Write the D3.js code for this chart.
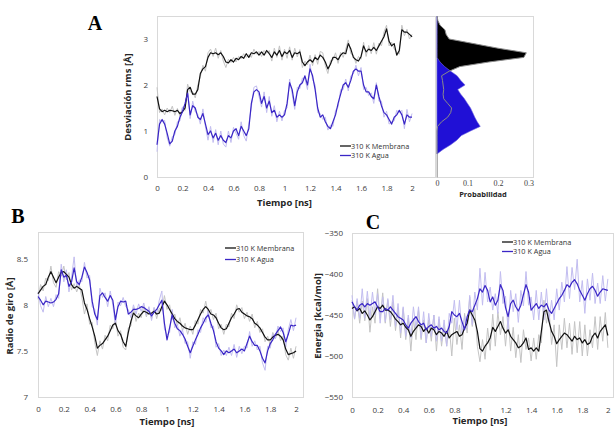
<!DOCTYPE html>
<html>
<head>
<meta charset="utf-8">
<script src="https://cdn.jsdelivr.net/npm/d3@7"></script>
<style>
body { margin: 0; background: #fff; }
svg { display: block; }
</style>
</head>
<body>
<script>
// time sampling of every series (ns)
var tiempoStep = 0.02;
var tiempoTicks = [0, 0.2, 0.4, 0.6, 0.8, 1, 1.2, 1.4, 1.6, 1.8, 2];

// A: desviacion rms [A]
var aMem = [1.75,1.48,1.42,1.45,1.42,1.45,1.44,1.42,1.45,1.38,1.42,1.5,1.9,1.95,1.8,1.8,1.9,2.25,2.35,2.4,
  2.6,2.7,2.68,2.7,2.66,2.7,2.62,2.5,2.48,2.55,2.5,2.58,2.55,2.62,2.58,2.68,2.6,2.7,2.68,2.72,
  2.65,2.72,2.65,2.75,2.68,2.6,2.72,2.65,2.75,2.62,2.72,2.68,2.75,2.6,2.7,2.68,2.72,2.5,2.42,2.5,
  2.55,2.5,2.6,2.55,2.65,2.6,2.5,2.35,2.45,2.6,2.6,2.55,2.65,2.7,2.68,2.9,2.78,2.6,2.55,2.52,
  2.62,2.85,2.72,2.78,2.75,2.82,2.75,2.85,2.95,3.05,3.22,2.95,2.85,2.9,2.65,2.75,3.2,3.15,3.15,3.1,3.05];
var aMemRaw = [1.95,1.4,1.48,1.35,1.5,1.4,1.54,1.34,1.49,1.32,1.52,1.45,2.02,1.85,1.85,1.72,2.0,2.18,2.43,2.3,
  2.7,2.78,2.62,2.8,2.58,2.75,2.52,2.38,2.56,2.49,2.6,2.5,2.62,2.57,2.68,2.6,2.66,2.6,2.78,2.67,
  2.73,2.62,2.75,2.69,2.75,2.52,2.8,2.6,2.85,2.54,2.78,2.58,2.83,2.54,2.8,2.61,2.77,2.38,2.52,2.44,
  2.65,2.42,2.66,2.45,2.73,2.7,2.42,2.25,2.53,2.54,2.7,2.47,2.71,2.6,2.78,2.98,2.68,2.65,2.47,2.62,
  2.56,2.93,2.62,2.86,2.68,2.92,2.67,2.91,2.85,3.15,3.3,2.85,2.93,2.78,2.71,2.67,3.3,3.07,3.21,3.0,3.1];
var aAgua = [0.7,1.15,1.25,1.15,0.95,0.72,0.78,1.0,1.1,1.3,1.42,1.6,1.82,1.35,1.55,1.5,1.3,1.25,1.38,1.15,
  0.92,1.0,0.85,0.95,0.8,0.9,0.8,0.75,0.9,0.85,1.0,1.05,0.9,1.1,1.0,0.9,1.05,1.6,1.85,1.9,
  1.85,1.6,1.75,1.5,1.65,1.4,1.45,1.3,1.35,1.3,1.35,1.6,2.05,1.9,1.55,1.85,2.0,2.05,2.2,2.0,
  2.35,2.2,1.9,1.5,1.3,1.35,1.2,1.1,1.05,1.2,1.35,1.6,1.8,2.0,2.05,1.95,2.1,2.3,2.35,2.3,
  2.3,2.0,1.85,1.85,1.75,1.7,2.0,1.75,1.55,1.4,1.35,1.25,1.15,1.3,1.35,1.45,1.35,1.15,1.35,1.3,1.3];
var aAguaRaw = [0.55,1.25,1.2,1.23,0.85,0.67,0.88,0.92,1.2,1.22,1.52,1.54,1.92,1.27,1.65,1.42,1.36,1.15,1.48,1.09,
  0.8,1.1,0.75,1.03,0.7,1.0,0.72,0.65,1.0,0.75,1.08,0.95,0.82,1.2,0.9,0.78,1.15,1.52,1.95,1.98,
  1.75,1.52,1.85,1.4,1.75,1.32,1.55,1.2,1.43,1.22,1.45,1.5,2.13,1.8,1.47,1.95,1.92,2.15,2.14,1.9,
  2.45,2.12,2.0,1.4,1.38,1.25,1.3,1.02,1.13,1.1,1.45,1.52,1.9,1.9,2.13,1.87,2.2,2.24,2.43,2.2,
  2.38,1.9,1.95,1.77,1.83,1.6,2.05,1.65,1.65,1.3,1.43,1.15,1.2,1.22,1.45,1.39,1.45,1.05,1.47,1.2,1.38];

// A: histograma de probabilidad
var rmsdBins = [0.5,0.6,0.7,0.8,0.9,1.0,1.1,1.2,1.3,1.4,1.5,1.6,1.7,1.8,1.9,2.0,
  2.1,2.2,2.3,2.4,2.5,2.6,2.7,2.8,2.9,3.0,3.1,3.2,3.3,3.4,3.5];
var probMem = [0,0,0,0,0,0,0.002,0.015,0.035,0.045,0.048,0.035,0.022,0.02,0.022,0.02,
  0.018,0.015,0.04,0.075,0.17,0.285,0.293,0.2,0.12,0.04,0.03,0.026,0.01,0.003,0];
var probAgua = [0,0.02,0.045,0.065,0.08,0.11,0.142,0.132,0.124,0.117,0.11,0.1,0.09,0.078,0.068,0.092,
  0.078,0.066,0.045,0.025,0.01,0,0,0,0,0,0,0,0,0,0];
var probTicks = [0, 0.1, 0.2, 0.3];

// B: radio de giro [A]
var bMem = [8.12,8.16,8.2,8.22,8.3,8.36,8.3,8.24,8.3,8.35,8.36,8.33,8.3,8.22,8.18,8.2,8.18,8.16,8.02,7.95,
  7.85,7.76,7.66,7.53,7.56,7.58,7.62,7.66,7.72,7.78,7.8,7.72,7.68,7.6,7.55,7.7,7.82,7.91,7.88,7.86,
  7.9,7.93,7.92,7.9,7.91,7.93,7.9,7.91,7.98,8.04,8.0,7.95,7.9,7.85,7.82,7.8,7.77,7.75,7.74,7.73,
  7.73,7.78,7.84,7.9,7.95,7.98,7.95,7.9,7.89,7.86,7.8,7.75,7.73,7.74,7.8,7.86,7.9,7.95,7.96,7.92,
  7.9,7.88,7.87,7.85,7.8,7.78,7.75,7.7,7.65,7.62,7.62,7.65,7.67,7.68,7.66,7.62,7.52,7.46,7.47,7.48,7.5];
var bMemRaw = [8.06,8.22,8.15,8.29,8.26,8.42,8.24,8.19,8.36,8.31,8.42,8.27,8.35,8.16,8.23,8.14,8.22,8.08,7.9,8.01,
  7.79,7.81,7.59,7.45,7.61,7.52,7.67,7.61,7.78,7.74,7.85,7.66,7.72,7.54,7.51,7.75,7.77,7.97,7.82,7.91,
  7.86,7.99,7.87,7.95,7.85,7.97,7.85,7.96,7.94,8.1,7.95,8.0,7.84,7.9,7.77,7.86,7.72,7.8,7.68,7.77,
  7.68,7.83,7.79,7.95,7.91,8.04,7.9,7.95,7.84,7.91,7.74,7.79,7.68,7.79,7.76,7.91,7.85,8.0,7.92,7.97,
  7.85,7.92,7.82,7.9,7.75,7.82,7.7,7.74,7.6,7.66,7.56,7.7,7.63,7.73,7.61,7.66,7.46,7.4,7.53,7.42,7.55];
var bAgua = [8.09,8.05,8.0,8.04,8.03,8.02,8.03,8.06,8.12,8.38,8.3,8.32,8.2,8.25,8.4,8.25,8.22,8.3,8.41,8.35,
  8.27,8.04,7.9,7.84,8.1,8.13,8.08,8.04,8.1,8.05,7.84,7.98,8.04,8.03,8.04,7.9,7.92,7.95,7.95,7.96,
  7.98,7.97,7.95,7.93,7.88,7.92,7.95,8.0,8.05,7.8,7.62,7.75,7.89,7.8,7.74,7.72,7.68,7.63,7.55,7.48,
  7.55,7.62,7.68,7.75,7.8,7.86,7.89,7.8,7.72,7.6,7.53,7.5,7.46,7.5,7.48,7.5,7.52,7.48,7.5,7.52,
  7.5,7.58,7.66,7.6,7.56,7.56,7.5,7.42,7.37,7.5,7.58,7.62,7.68,7.72,7.76,7.7,7.6,7.68,7.78,7.77,7.78];
var bAguaRaw = [8.14,7.99,7.92,8.09,7.98,8.07,7.98,8.11,8.07,8.44,8.25,8.38,8.14,8.3,8.52,8.19,8.27,8.25,8.46,8.29,
  8.32,7.98,7.95,7.78,8.18,8.08,8.13,7.98,8.15,8.0,7.78,8.03,7.99,8.08,7.98,7.95,7.86,8.0,7.9,8.01,
  7.93,8.02,7.89,7.98,7.83,7.97,7.9,8.05,8.15,7.74,7.67,7.7,7.95,7.75,7.79,7.66,7.73,7.58,7.6,7.42,
  7.6,7.57,7.73,7.7,7.86,7.81,7.94,7.75,7.77,7.54,7.58,7.45,7.51,7.45,7.54,7.45,7.57,7.43,7.55,7.47,
  7.55,7.53,7.71,7.55,7.61,7.51,7.55,7.37,7.29,7.55,7.53,7.68,7.63,7.77,7.71,7.75,7.54,7.73,7.84,7.72,7.86];

// C: energia [kcal/mol]
var cMem = [-442,-440,-445,-442,-448,-445,-450,-456,-452,-446,-440,-442,-438,-444,-444,-446,-450,-455,-458,-462,
  -460,-465,-468,-476,-470,-466,-462,-464,-470,-466,-472,-466,-468,-474,-470,-472,-476,-470,-478,-474,
  -472,-470,-476,-474,-466,-460,-444,-450,-456,-470,-491,-494,-488,-484,-478,-465,-470,-464,-458,-466,
  -472,-468,-476,-480,-484,-490,-488,-484,-478,-492,-490,-494,-490,-494,-470,-446,-444,-458,-470,-476,
  -485,-480,-476,-472,-474,-478,-482,-476,-480,-478,-484,-480,-486,-484,-476,-472,-478,-470,-466,-462,-475];
var cMemRaw = [-432,-455,-433,-460,-433,-457,-430,-471,-440,-460,-418,-454,-423,-460,-432,-464,-434,-469,-443,-478,
  -442,-480,-454,-494,-454,-480,-444,-480,-456,-484,-456,-482,-450,-494,-455,-488,-462,-488,-464,-500,
  -454,-486,-462,-492,-448,-472,-428,-464,-442,-488,-507,-480,-504,-466,-493,-449,-488,-446,-474,-452,
  -488,-452,-494,-465,-502,-474,-508,-468,-492,-478,-506,-478,-504,-474,-484,-432,-460,-444,-486,-462,
  -513,-462,-492,-454,-490,-460,-498,-458,-496,-458,-500,-462,-500,-468,-490,-452,-492,-452,-482,-447,-490];
var cAgua = [-434,-440,-444,-438,-436,-440,-436,-438,-436,-434,-440,-446,-446,-442,-444,-440,-444,-448,-452,-454,
  -456,-462,-466,-460,-456,-452,-458,-462,-460,-468,-464,-462,-466,-464,-468,-466,-470,-472,-464,-446,
  -450,-452,-448,-458,-468,-452,-444,-446,-438,-430,-418,-422,-414,-420,-434,-428,-438,-432,-413,-420,
  -441,-452,-436,-432,-440,-445,-438,-425,-413,-422,-444,-440,-436,-442,-438,-440,-436,-444,-448,-442,
  -436,-430,-426,-420,-413,-416,-410,-407,-412,-420,-426,-432,-424,-418,-415,-420,-427,-422,-418,-419,-420];
var cAguaRaw = [-426,-455,-430,-454,-418,-454,-421,-454,-422,-450,-424,-460,-428,-458,-430,-456,-426,-464,-436,-472,
  -440,-476,-450,-478,-440,-466,-440,-478,-446,-484,-448,-476,-450,-482,-452,-482,-456,-488,-448,-460,
  -432,-468,-432,-472,-452,-466,-426,-462,-422,-444,-393,-438,-398,-434,-416,-444,-424,-448,-397,-436,
  -427,-468,-420,-446,-424,-459,-420,-439,-397,-438,-428,-456,-420,-456,-422,-456,-418,-458,-432,-456,
  -418,-444,-410,-434,-391,-430,-392,-419,-382,-434,-408,-448,-406,-432,-399,-436,-411,-436,-402,-433,-406];

var legendNames = ['310 K Membrana', '310 K Agua'];

var C = {
  frame: '#d9d9d9', tick: '#404040', title: '#262626',
  mem: '#111111', memRaw: '#c4c4c4',
  agua: '#3a26c6', aguaRaw: '#c2bdf0',
  histAgua: '#2010d6', histMem: '#000000'
};

var svg = d3.select('body').append('svg')
  .attr('width', 614)
  .attr('height', 430);

function toPoints(vals){
  return vals.map(function(v, i){ return {t: i * tiempoStep, v: v}; });
}

function panel(opt){
  var g = svg.append('g');
  var x = d3.scaleLinear().domain(opt.xDomain).range(opt.xRange);
  var y = d3.scaleLinear().domain(opt.yDomain).range(opt.yRange);

  g.append('rect')
    .attr('x', opt.xRange[0] + 0.5).attr('y', opt.yRange[1] + 0.5)
    .attr('width', opt.xRange[1] - opt.xRange[0]).attr('height', opt.yRange[0] - opt.yRange[1])
    .attr('fill', 'none').attr('stroke', C.frame).attr('stroke-width', 1);

  var xAxis = g.append('g')
    .attr('transform', 'translate(0,' + opt.yRange[0] + ')')
    .call(d3.axisBottom(x).tickValues(tiempoTicks).tickSize(0).tickPadding(opt.xPad)
      .tickFormat(d3.format('')));
  var yAxis = g.append('g')
    .attr('transform', 'translate(' + opt.xRange[0] + ',0)')
    .call(d3.axisLeft(y).tickValues(opt.yTicks).tickSize(0).tickPadding(opt.yPad)
      .tickFormat(d3.format('')));
  [xAxis, yAxis].forEach(function(a){
    a.select('.domain').remove();
    a.selectAll('text').attr('fill', C.tick)
      .style('font-family', '"Open Sans", sans-serif').style('font-size', '8px');
  });

  var line = d3.line()
    .x(function(d){ return x(d.t); })
    .y(function(d){ return y(d.v); });

  opt.series.forEach(function(s){
    g.append('path').datum(toPoints(s.values))
      .attr('d', line).attr('fill', 'none')
      .attr('stroke', s.color).attr('stroke-width', s.width)
      .attr('stroke-linejoin', 'round');
  });

  g.append('text')
    .attr('x', x(1)).attr('y', opt.xTitleY)
    .attr('text-anchor', 'middle')
    .style('font-family', '"Open Sans", sans-serif').style('font-size', '9.5px')
    .style('font-weight', 'bold').attr('fill', C.title)
    .text('Tiempo [ns]');

  g.append('text')
    .attr('transform', 'translate(' + opt.yTitleX + ',' + opt.yTitleCy + ') rotate(-90)')
    .attr('text-anchor', 'middle')
    .style('font-family', '"Open Sans", sans-serif').style('font-size', '9.5px')
    .style('font-weight', 'bold').attr('fill', C.title)
    .text(opt.yTitle);

  var lg = g.append('g').attr('transform', 'translate(' + opt.legend[0] + ',' + opt.legend[1] + ')');
  [C.mem, C.agua].forEach(function(col, i){
    lg.append('line').attr('x1', 0).attr('x2', 11)
      .attr('y1', i * opt.legendGap).attr('y2', i * opt.legendGap)
      .attr('stroke', col).attr('stroke-width', 1.3);
    lg.append('text').attr('x', 11).attr('y', i * opt.legendGap).attr('dy', '0.35em')
      .style('font-family', '"Open Sans", sans-serif').style('font-size', '7.3px')
      .attr('fill', '#333').text(legendNames[i]);
  });

  svg.append('text')
    .attr('x', opt.letter[0]).attr('y', opt.letter[1])
    .attr('text-anchor', 'middle')
    .style('font-family', '"Liberation Serif", serif').style('font-size', '20px')
    .style('font-weight', 'bold').attr('fill', '#000')
    .text(opt.letterText);

  return {x: x, y: y, g: g};
}

// Panel A
var pA = panel({
  xDomain: [0, 2.18], xRange: [157, 435],
  yDomain: [0, 3.5], yRange: [177, 16],
  yTicks: [0, 1, 2, 3], xPad: 8, yPad: 9,
  series: [
    {values: aMemRaw, color: C.memRaw, width: 1},
    {values: aAguaRaw, color: C.aguaRaw, width: 1},
    {values: aMem, color: C.mem, width: 1.2},
    {values: aAgua, color: C.agua, width: 1.2}
  ],
  xTitleY: 206, yTitleX: 131, yTitleCy: 97, yTitle: 'Desviación rms [Å]',
  legend: [340, 146], legendGap: 9.5,
  letter: [95, 30], letterText: 'A'
});

// Panel A: histogram
(function(){
  var yH = pA.y;
  var xH = d3.scaleLinear().domain([0, 0.315]).range([437, 533]);
  var g = svg.append('g');
  g.append('rect')
    .attr('x', 436.5).attr('y', 16.5).attr('width', 97).attr('height', 161)
    .attr('fill', 'none').attr('stroke', C.frame);
  g.append('line').attr('x1', 437.5).attr('x2', 437.5).attr('y1', 16.5).attr('y2', 177.5)
    .attr('stroke', '#b0b0b0');

  var memPts = rmsdBins.map(function(r, i){ return {r: r, p: probMem[i]}; });
  var aguaPts = rmsdBins.map(function(r, i){ return {r: r, p: probAgua[i]}; });
  var area = d3.area()
    .y(function(d){ return yH(d.r); })
    .x0(xH(0))
    .x1(function(d){ return xH(d.p); });
  var outline = d3.line()
    .y(function(d){ return yH(d.r); })
    .x(function(d){ return xH(d.p); });

  g.append('path').datum(memPts).attr('d', area).attr('fill', C.histMem);
  g.append('path').datum(aguaPts).attr('d', area).attr('fill', C.histAgua)
    .attr('stroke', '#6f66e0').attr('stroke-width', 0.6);
  g.append('path').datum(memPts).attr('d', outline).attr('fill', 'none')
    .attr('stroke', '#8a8a8a').attr('stroke-width', 1);

  var ax = g.append('g').attr('transform', 'translate(0,177)')
    .call(d3.axisBottom(xH).tickValues(probTicks).tickSize(0).tickPadding(3)
      .tickFormat(d3.format('')));
  ax.select('.domain').remove();
  ax.selectAll('text').attr('fill', C.tick)
    .style('font-family', '"Liberation Serif", serif').style('font-size', '8px');

  g.append('text').attr('x', 483).attr('y', 197).attr('text-anchor', 'middle')
    .style('font-family', '"Open Sans", sans-serif').style('font-size', '7.5px')
    .style('font-weight', 'bold').attr('fill', C.title)
    .text('Probabilidad');
})();

// Panel B
panel({
  xDomain: [0, 2.054], xRange: [38, 303],
  yDomain: [7, 8.79], yRange: [397, 232],
  yTicks: [7, 7.5, 8, 8.5], xPad: 9, yPad: 10,
  series: [
    {values: bMemRaw, color: C.memRaw, width: 1},
    {values: bAguaRaw, color: C.aguaRaw, width: 1},
    {values: bMem, color: C.mem, width: 1.2},
    {values: bAgua, color: C.agua, width: 1.2}
  ],
  xTitleY: 425, yTitleX: 13, yTitleCy: 316, yTitle: 'Radio de giro  [Å]',
  legend: [225, 248], legendGap: 11.5,
  letter: [18, 223], letterText: 'B'
});

// Panel C
panel({
  xDomain: [0, 2.04], xRange: [352, 613],
  yDomain: [-550, -350], yRange: [397, 233],
  yTicks: [-550, -500, -450, -400, -350], xPad: 10, yPad: 9,
  series: [
    {values: cMemRaw, color: C.memRaw, width: 1},
    {values: cAguaRaw, color: C.aguaRaw, width: 1},
    {values: cMem, color: C.mem, width: 1.2},
    {values: cAgua, color: C.agua, width: 1.2}
  ],
  xTitleY: 424, yTitleX: 321, yTitleCy: 316, yTitle: 'Energia [kcal/mol]',
  legend: [502, 242], legendGap: 9.5,
  letter: [373, 229], letterText: 'C'
});
</script>
</body>
</html>
